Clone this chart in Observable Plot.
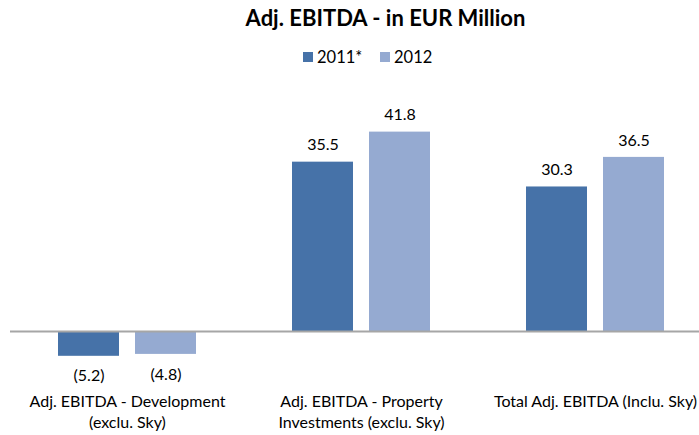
<!DOCTYPE html>
<html>
<head>
<meta charset="utf-8">
<script src="https://cdn.jsdelivr.net/npm/d3@7"></script>
<script src="https://cdn.jsdelivr.net/npm/@observablehq/plot@0.6"></script>
<style>
  html, body { margin: 0; padding: 0; background: #fff; overflow: hidden; }
  body { width: 699px; height: 435px; font-family: Lato, "Open Sans", sans-serif; color: #000; }
  #header { position: relative; width: 699px; height: 80px; }
  #title { position: absolute; left: 0; top: 0; width: 699px; height: 36px; line-height: 36px; text-align: center; font-size: 22px; font-weight: bold; transform: translateX(36px); }
  #legend { position: absolute; top: 48px; height: 18px; line-height: 18px; font-size: 16.5px; }
  .sw { position: absolute; top: 4px; width: 10px; height: 10px; }
  .lab { position: absolute; top: 0; white-space: nowrap; }
  #chart svg { display: block; }
</style>
</head>
<body>
<div id="header">
  <div id="title">Adj. EBITDA - in EUR Million</div>
  <div id="legend"></div>
</div>
<div id="chart"></div>
<script>
const categories = [
  "Adj. EBITDA - Development\n(exclu. Sky)",
  "Adj. EBITDA - Property\nInvestments (exclu. Sky)",
  "Total Adj. EBITDA (Inclu. Sky)"
];
const years = ["2011*", "2012"];
const values2011 = [-5.2, 35.5, 30.3];
const values2012 = [-4.8, 41.8, 36.5];
const colors = ["#4672a8", "#95aad1"];

const data = [];
categories.forEach((c, i) => {
  data.push({cat: c, year: years[0], value: values2011[i]});
  data.push({cat: c, year: years[1], value: values2012[i]});
});
const fmt = v => v < 0 ? `(${Math.abs(v).toFixed(1)})` : v.toFixed(1);

// legend
const legend = document.getElementById("legend");
const legendPos = [{sw: 303, lab: 317}, {sw: 380, lab: 394}];
years.forEach((y, i) => {
  const s = document.createElement("div");
  s.className = "sw"; s.style.left = legendPos[i].sw + "px"; s.style.background = colors[i];
  const t = document.createElement("div");
  t.className = "lab"; t.style.left = legendPos[i].lab + "px"; t.textContent = y;
  legend.appendChild(s); legend.appendChild(t);
});

const font = "Lato, 'Open Sans', sans-serif";
const chart = Plot.plot({
  width: 699,
  height: 355,
  marginLeft: 10,
  marginRight: -13,
  marginTop: 12.5,
  marginBottom: 56.3,
  style: {fontFamily: font, background: "white", color: "#000"},
  fx: {domain: categories, padding: 0, axis: null},
  x: {domain: years, paddingInner: 0.205, paddingOuter: 0.603, axis: null},
  y: {domain: [-10, 50], axis: null},
  color: {domain: years, range: colors},
  marks: [
    Plot.barY(data, {fx: "cat", x: "year", y: "value", fill: "year"}),
    Plot.ruleY([0], {stroke: "#a6a6a6", strokeWidth: 2}),
    Plot.text(data.filter(d => d.value >= 0), {fx: "cat", x: "year", y: "value", text: d => fmt(d.value), dy: -17, fontSize: 16, fill: "#000"}),
    Plot.text(data.filter(d => d.value < 0), {fx: "cat", x: "year", y: "value", text: d => fmt(d.value), dy: 20, fontSize: 16, fill: "#000"}),
    Plot.text(categories, {fx: d => d, text: d => d, frameAnchor: "bottom", lineAnchor: "top", dy: 12.5, lineHeight: 1.31, fontSize: 16, fill: "#000"})
  ]
});
document.getElementById("chart").appendChild(chart);
</script>
</body>
</html>
